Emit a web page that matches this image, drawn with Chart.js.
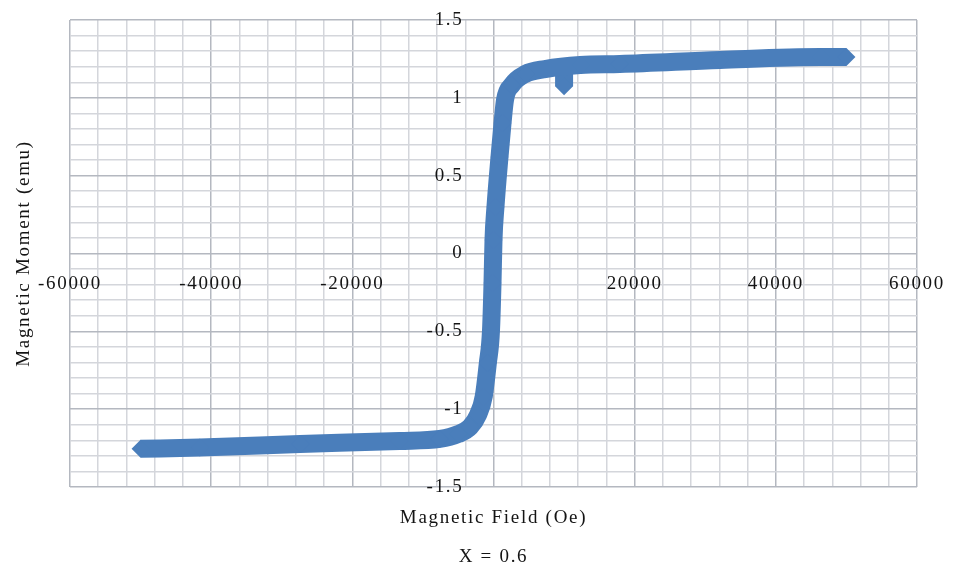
<!DOCTYPE html>
<html><head><meta charset="utf-8">
<script src="https://cdn.jsdelivr.net/npm/chart.js@4.4.1/dist/chart.umd.min.js"></script>
<style>html,body{margin:0;padding:0;background:#fff;}canvas{display:block;}</style>
</head><body>
<canvas id="c" width="953" height="570"></canvas>
<script>
// Magnetic field (Oe) and magnetic moment (emu)
const fieldOe   = [-50000, -41600, -27400, -13300, -7600, -5000, -3300, -2200, -1400, -800, -350, -140, 0, 280, 850, 1280, 1630, 2600, 4500, 7300, 12300, 17900, 32100, 46300, 50000];
const momentEmu = [-1.255, -1.246, -1.224, -1.204, -1.191, -1.160, -1.114, -1.037, -0.922, -0.703, -0.491, -0.190, 0.087, 0.299, 0.620, 0.838, 0.986, 1.082, 1.153, 1.185, 1.211, 1.217, 1.243, 1.262, 1.262];
// short outlier spur hanging below the upper branch near 10000 Oe
const spikeField  = [10000, 10000];
const spikeMoment = [1.20, 1.075];
// labelled tick values
const xTickLabels = [-60000, -40000, -20000, 0, 20000, 40000, 60000];
const yTickLabels = [-1.5, -1, -0.5, 0, 0.5, 1, 1.5];
const xTitle = 'Magnetic Field (Oe)';
const yTitle = 'Magnetic Moment (emu)';
const caption = 'X = 0.6';

const BLUE = '#4a7ebb';
const FONT = "'Liberation Serif', 'Times New Roman', serif";
const TXT = '#141414';
const SPACING = '1.7px';

const spacingPlugin = {
  id: 'spacing',
  beforeUpdate(chart) { chart.ctx.letterSpacing = SPACING; },
  beforeLayout(chart) { chart.ctx.letterSpacing = SPACING; },
  beforeDraw(chart) { chart.ctx.letterSpacing = SPACING; }
};

function gridColor(ctx, majorStep) {
  if (!ctx.tick) return '#d4d6db';
  const v = ctx.tick.value / majorStep;
  return Math.abs(v - Math.round(v)) < 1e-6 ? '#b4b8c0' : '#d4d6db';
}
function isLabel(list, v) { return list.some(t => Math.abs(t - v) < 1e-6); }
function noPad(s) { s.paddingLeft = 0; s.paddingRight = 0; s.paddingTop = 0; s.paddingBottom = 0; }

new Chart(document.getElementById('c'), {
  type: 'scatter',
  plugins: [spacingPlugin],
  data: {
    datasets: [
      {
        data: fieldOe.map((x, i) => ({ x: x, y: momentEmu[i] })),
        showLine: true,
        borderColor: BLUE,
        backgroundColor: BLUE,
        borderWidth: 18,
        borderCapStyle: 'butt',
        borderJoinStyle: 'round',
        cubicInterpolationMode: 'monotone',
        pointStyle: 'rectRot',
        pointRadius: 9,
        pointBorderWidth: 0,
        pointBackgroundColor: BLUE
      },
      {
        data: spikeField.map((x, i) => ({ x: x, y: spikeMoment[i] })),
        showLine: true,
        borderWidth: 18,
        borderCapStyle: 'butt',
        pointStyle: 'rectRot',
        pointRadius: [0, 9],
        pointBorderWidth: 0,
        pointBackgroundColor: BLUE,
        borderColor: BLUE,
        backgroundColor: BLUE
      }
    ]
  },
  options: {
    responsive: false,
    animation: false,
    events: [],
    layout: { padding: { top: 20, right: 36, left: 0, bottom: 0 } },
    plugins: {
      legend: { display: false },
      tooltip: { enabled: false },
      title: {
        display: true,
        text: caption,
        position: 'bottom',
        fullSize: false,
        color: TXT,
        font: { family: FONT, size: 19, weight: 'normal' },
        padding: { top: 12.2, bottom: 1.6 }
      }
    },
    scales: {
      x: {
        type: 'linear',
        position: { y: 0 },
        min: -60000, max: 60000,
        afterFit: noPad,
        ticks: {
          stepSize: 4000, autoSkip: false, maxRotation: 0, padding: 19,
          color: TXT, font: { family: FONT, size: 19 },
          callback: v => isLabel(xTickLabels, v) ? String(Math.round(v)) : ''
        },
        grid: { color: c => gridColor(c, 20000), lineWidth: 1.5, drawTicks: false },
        border: { display: false }
      },
      y: {
        type: 'linear',
        position: { x: -4250 },
        min: -1.5, max: 1.5,
        afterFit: noPad,
        ticks: {
          stepSize: 0.1, autoSkip: false, padding: 0,
          color: TXT, font: { family: FONT, size: 19 },
          callback: v => isLabel(yTickLabels, v) ? String(+(+v).toFixed(1)) : ''
        },
        grid: { color: c => gridColor(c, 0.5), lineWidth: 1.5, drawTicks: false },
        border: { display: false }
      },
      x2: {
        type: 'linear', axis: 'x', position: 'bottom', display: true,
        ticks: { display: false },
        grid: { display: false, drawTicks: false },
        border: { display: false },
        title: { display: true, text: xTitle, color: TXT, font: { family: FONT, size: 19 }, padding: { top: 19.6, bottom: 4 } }
      },
      y2: {
        type: 'linear', axis: 'y', position: 'left', display: true,
        ticks: { display: false },
        grid: { display: false, drawTicks: false },
        border: { display: false },
        title: { display: true, text: yTitle, color: TXT, font: { family: FONT, size: 19 }, padding: { top: 12.6, bottom: 34.6 } }
      }
    }
  }
});
</script>
</body></html>
